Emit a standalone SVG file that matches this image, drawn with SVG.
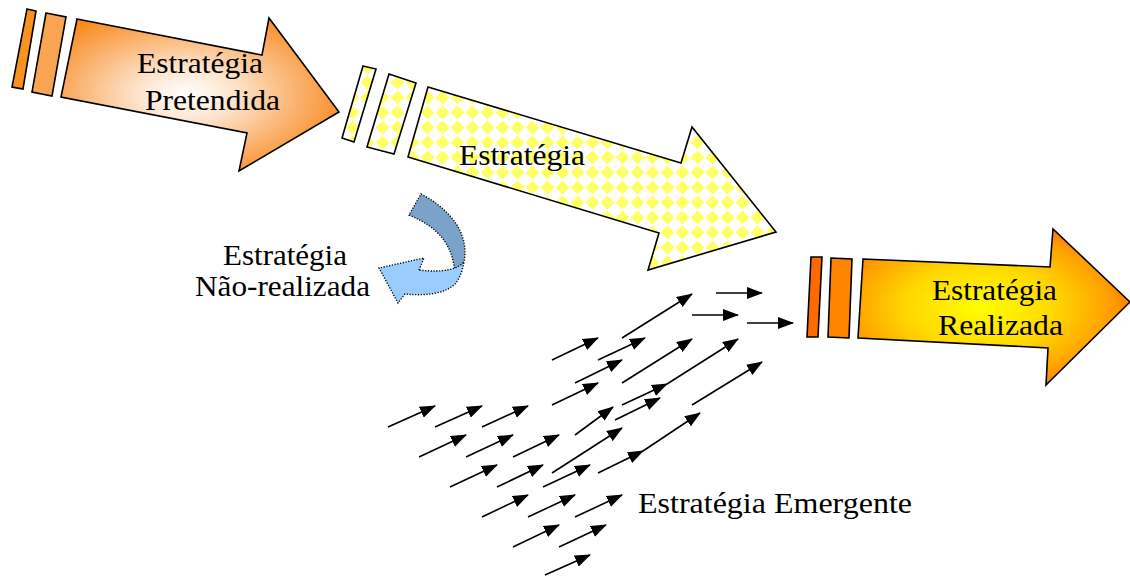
<svg xmlns="http://www.w3.org/2000/svg" width="1130" height="576" viewBox="0 0 1130 576">
<defs>
<style>
.t{font-family:"Liberation Serif","DejaVu Serif","Noto Serif",Tinos,"Times New Roman",serif;font-size:30px;fill:#000}
.ol{stroke:#000;stroke-width:1.6;stroke-linejoin:miter}
.dot{stroke:#000;stroke-width:1.4;stroke-dasharray:1.2 1.6}
.sa{stroke:#000;stroke-width:1.6;fill:none;marker-end:url(#ah)}
</style>
<marker id="ah" markerUnits="userSpaceOnUse" markerWidth="16" markerHeight="12" refX="15" refY="6" orient="auto">
<path d="M0,0 L16,6 L0,12 Z" fill="#000"/>
</marker>
<radialGradient id="gOr" cx="0.45" cy="0.5" r="0.6">
<stop offset="0" stop-color="#FFFFFF"/>
<stop offset="0.3" stop-color="#FDE3CB"/>
<stop offset="0.7" stop-color="#FAAE66"/>
<stop offset="1" stop-color="#F78A1C"/>
</radialGradient>
<radialGradient id="gYe" cx="0.45" cy="0.5" r="0.6">
<stop offset="0" stop-color="#FFFF00"/>
<stop offset="0.45" stop-color="#FFD800"/>
<stop offset="0.8" stop-color="#FF9E00"/>
<stop offset="1" stop-color="#FF6A00"/>
</radialGradient>
<pattern id="chk" patternUnits="userSpaceOnUse" width="15" height="15">
<rect width="15" height="15" fill="#FFFFFF"/>
<polygon points="7.5,0.5 14.5,7.5 7.5,14.5 0.5,7.5" fill="#FFFF66"/>
</pattern>
</defs>

<g id="estrategia-pretendida">
<polygon class="ol" points="27,9 36,11 23,89 12,87" fill="#F7931E"/>
<polygon class="ol" points="46,13 66,17 52,96 32,92" fill="#F9A452"/>
<polygon class="ol" points="77,19 262,55 269,18 339,112 239,171 247,133 61,97" fill="url(#gOr)"/>
<text class="t" x="137" y="73" textLength="126" lengthAdjust="spacingAndGlyphs">Estratégia</text>
<text class="t" x="145" y="110" textLength="135" lengthAdjust="spacingAndGlyphs">Pretendida</text>
</g>

<g id="estrategia">
<polygon class="ol" points="363,66 376,69 354,142 342,138" fill="url(#chk)"/>
<polygon class="ol" points="389,74 416,83 394,154 367,147" fill="url(#chk)"/>
<polygon class="ol" points="428,87 681,163 692,127 776,232 648,270 659,233 408,157" fill="url(#chk)"/>
<text class="t" x="459" y="165" textLength="126" lengthAdjust="spacingAndGlyphs">Estratégia</text>
</g>

<g id="estrategia-nao-realizada">
<path class="dot" d="M421,194 C448,208 470,232 464,262 L455,272 C452,245 440,228 409,215 Z" fill="#7BA2CB"/>
<path class="dot" d="M419,270 L424,258 L379,268 L398,303 L405,294 C425,296 446,294 456,283 C461,276 463,268 464,262 C458,269 444,273 419,270 Z" fill="#99CCFF"/>
<text class="t" x="223" y="265" textLength="124" lengthAdjust="spacingAndGlyphs">Estratégia</text>
<text class="t" x="195" y="296" textLength="175" lengthAdjust="spacingAndGlyphs">Não-realizada</text>
</g>

<g id="estrategia-realizada">
<polygon class="ol" points="811,257 822,257 818,337 807,337" fill="#FF6A00"/>
<polygon class="ol" points="831,258 852,259 849,338 828,337" fill="#FF8400"/>
<polygon class="ol" points="863,259 1050,267 1053,229 1130,302 1046,385 1048,348 858,338" fill="url(#gYe)"/>
<text class="t" x="932" y="300" textLength="125" lengthAdjust="spacingAndGlyphs">Estratégia</text>
<text class="t" x="938" y="335" textLength="125" lengthAdjust="spacingAndGlyphs">Realizada</text>
</g>

<g id="estrategia-emergente">
<text class="t" x="638" y="513" textLength="274" lengthAdjust="spacingAndGlyphs">Estratégia Emergente</text>
</g>

<g id="connectors">
<line class="sa" x1="716" y1="293" x2="762" y2="293"/>
<line class="sa" x1="692" y1="315" x2="738" y2="315"/>
<line class="sa" x1="747" y1="323" x2="793" y2="323"/>
<line class="sa" x1="622" y1="338" x2="692" y2="294"/>
<line class="sa" x1="552" y1="360" x2="598" y2="338"/>
<line class="sa" x1="598" y1="360" x2="645" y2="338"/>
<line class="sa" x1="622" y1="383" x2="692" y2="339"/>
<line class="sa" x1="575" y1="383" x2="622" y2="360"/>
<line class="sa" x1="552" y1="405" x2="598" y2="383"/>
<line class="sa" x1="622" y1="405" x2="667" y2="384"/>
<line class="sa" x1="667" y1="384" x2="738" y2="339"/>
<line class="sa" x1="615" y1="420" x2="660" y2="398"/>
<line class="sa" x1="575" y1="435" x2="613" y2="407"/>
<line class="sa" x1="692" y1="405" x2="762" y2="362"/>
<line class="sa" x1="388" y1="427" x2="435" y2="406"/>
<line class="sa" x1="435" y1="427" x2="482" y2="406"/>
<line class="sa" x1="482" y1="427" x2="528" y2="406"/>
<line class="sa" x1="419" y1="457" x2="466" y2="435"/>
<line class="sa" x1="466" y1="457" x2="513" y2="435"/>
<line class="sa" x1="513" y1="457" x2="559" y2="435"/>
<line class="sa" x1="552" y1="473" x2="622" y2="428"/>
<line class="sa" x1="598" y1="473" x2="643" y2="451"/>
<line class="sa" x1="643" y1="451" x2="700" y2="413"/>
<line class="sa" x1="450" y1="487" x2="497" y2="465"/>
<line class="sa" x1="497" y1="487" x2="543" y2="465"/>
<line class="sa" x1="543" y1="487" x2="590" y2="465"/>
<line class="sa" x1="482" y1="517" x2="528" y2="495"/>
<line class="sa" x1="528" y1="517" x2="575" y2="495"/>
<line class="sa" x1="575" y1="517" x2="622" y2="495"/>
<line class="sa" x1="513" y1="547" x2="559" y2="525"/>
<line class="sa" x1="559" y1="547" x2="606" y2="525"/>
<line class="sa" x1="545" y1="575" x2="590" y2="555"/>
</g>
</svg>
